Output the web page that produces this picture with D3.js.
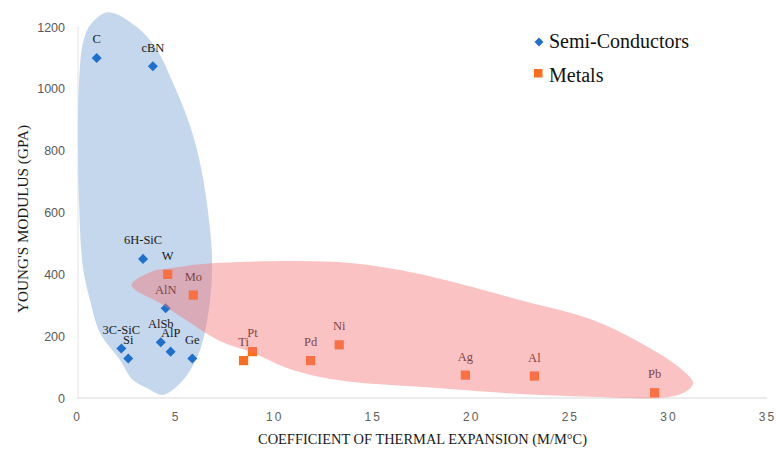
<!DOCTYPE html>
<html>
<head>
<meta charset="utf-8">
<script src="https://cdn.jsdelivr.net/npm/d3@7"></script>
<style>
  html, body { margin: 0; padding: 0; background: #ffffff; }
  svg { display: block; }
</style>
</head>
<body>
<svg id="chart" width="776" height="450"></svg>
<script>
// ---- Data ----
const semiNames  = ["C", "cBN", "6H-SiC", "AlN", "AlSb", "AlP", "3C-SiC", "Si", "Ge"];
const semiCTE    = [1.0, 3.85, 3.35, 4.5, 4.25, 4.75, 2.25, 2.6, 5.85];
const semiModulus= [1100, 1073, 450, 290, 180, 150, 160, 128, 128];

const metalNames  = ["W", "Mo", "Ti", "Pt", "Pd", "Ni", "Ag", "Al", "Pb"];
const metalCTE    = [4.6, 5.9, 8.45, 8.9, 11.85, 13.3, 19.7, 23.2, 29.3];
const metalModulus= [400, 333, 121, 150, 121, 172, 74, 71, 17];

const xTicks = [0, 5, 10, 15, 20, 25, 30, 35];
const yTicks = [0, 200, 400, 600, 800, 1000, 1200];

// highlight regions, outlines in data units (CTE, modulus)
const semiRegionX = [1.57, 3.04, 4.06, 4.87, 5.58, 6.09, 6.49, 6.75, 6.85, 6.75, 6.24, 5.38, 4.36, 3.55, 2.84, 2.18, 1.17, 0.66, 0.30, 0.10, 0.05, 0.10, 0.30, 0.66];
const semiRegionY = [1248, 1200, 1126, 1019, 909, 802, 673, 543, 446, 317, 155, 58, 10, 32, 58, 123, 210, 317, 424, 640, 867, 1019, 1148, 1206];

const metalRegionX = [2.77, 3.86, 4.72, 6.24, 8.27, 11.31, 13.85, 16.38, 18.92, 22.47, 26.17, 29.22, 30.69, 31.25, 30.74, 29.57, 26.53, 22.47, 17.40, 14.0, 12.33, 10.65, 8.93, 7.25, 5.53, 4.21];
const metalRegionY = [365, 411, 420, 433, 440, 443, 437, 414, 378, 317, 252, 155, 91, 48, 16, 0, 3, 13, 36, 52, 68, 97, 146, 184, 252, 307];

const seriesNames = ["Semi-Conductors", "Metals"];
const xTitle = "COEFFICIENT OF THERMAL EXPANSION (M/M\u00B0C)";
const yTitle = "YOUNG'S MODULUS (GPA)";

// ---- Layout ----
const svg = d3.select("#chart");
const x = d3.scaleLinear().domain([0, 35]).range([77, 767]);
const y = d3.scaleLinear().domain([0, 1200]).range([398, 27]);

const blue = "#1f6fcc";
const orange = "#fc6e1e";
const serif = "'Liberation Serif', 'Times New Roman', serif";
const sans = "'Liberation Sans', Arial, sans-serif";

// axes lines
svg.append("line").attr("x1", x(0)).attr("x2", x(35)).attr("y1", y(0)).attr("y2", y(0))
  .attr("stroke", "#d9d9d9").attr("stroke-width", 1);
svg.append("line").attr("x1", x(0) + 1).attr("x2", x(0) + 1).attr("y1", y(0)).attr("y2", y(1200))
  .attr("stroke", "#e3e3e3").attr("stroke-width", 1);

// tick labels via axes
const xAxis = svg.append("g").attr("transform", `translate(0,${y(0)})`)
  .call(d3.axisBottom(x).tickValues(xTicks).tickSize(0).tickPadding(14).tickFormat(d3.format("d")));
xAxis.select(".domain").remove();
xAxis.selectAll("text").attr("font-family", sans).attr("font-size", 12).attr("fill", "#606060")
  .attr("letter-spacing", "2px");

const yAxis = svg.append("g").attr("transform", `translate(${x(0)},0)`)
  .call(d3.axisLeft(y).tickValues(yTicks).tickSize(0).tickPadding(12).tickFormat(d3.format("d")));
yAxis.select(".domain").remove();
yAxis.selectAll("text").attr("font-family", sans).attr("font-size", 12.5).attr("fill", "#595959");

// blue region (below points)
const outline = d3.line().x(d => x(d[0])).y(d => y(d[1])).curve(d3.curveCatmullRomClosed.alpha(0.5));
const semiRegion = semiRegionX.map((v, i) => [v, semiRegionY[i]]);
const metalRegion = metalRegionX.map((v, i) => [v, metalRegionY[i]]);

svg.append("path").attr("d", outline(semiRegion))
  .attr("fill", "#bcd1ea").attr("fill-opacity", 0.88);

// points
const semi = semiNames.map((n, i) => ({ n, x: semiCTE[i], y: semiModulus[i] }));
const metals = metalNames.map((n, i) => ({ n, x: metalCTE[i], y: metalModulus[i] }));

svg.append("g").selectAll("path").data(semi).join("path")
  .attr("d", d3.symbol(d3.symbolDiamond2, 64)())
  .attr("transform", d => `translate(${x(d.x)},${y(d.y)})`)
  .attr("fill", blue);

svg.append("g").selectAll("rect").data(metals).join("rect")
  .attr("x", d => x(d.x) - 4.6).attr("y", d => y(d.y) - 4.6)
  .attr("width", 9.2).attr("height", 9.2)
  .attr("fill", orange);

// labels
svg.append("g").selectAll("text").data(semi.concat(metals)).join("text")
  .attr("x", d => x(d.x)).attr("y", d => y(d.y) - 14.5)
  .attr("text-anchor", "middle")
  .attr("font-family", serif).attr("font-size", 12.5).attr("fill", "#1a1a1a")
  .text(d => d.n);

// red region (over points)
svg.append("path").attr("d", outline(metalRegion))
  .attr("fill", "#f47474").attr("fill-opacity", 0.44);

// legend
const lg = svg.append("g");
lg.append("path").attr("d", d3.symbol(d3.symbolDiamond2, 50)())
  .attr("transform", "translate(539,42)").attr("fill", blue);
lg.append("text").attr("x", 549).attr("y", 48).attr("font-family", serif).attr("font-size", 20)
  .attr("fill", "#111").text(seriesNames[0]);
lg.append("rect").attr("x", 534).attr("y", 69).attr("width", 8.5).attr("height", 8.5).attr("fill", orange);
lg.append("text").attr("x", 549).attr("y", 82).attr("font-family", serif).attr("font-size", 20)
  .attr("fill", "#111").text(seriesNames[1]);

// axis titles
svg.append("text").attr("x", 422.5).attr("y", 444)
  .attr("text-anchor", "middle").attr("font-family", serif).attr("font-size", 15)
  .attr("textLength", 329).attr("lengthAdjust", "spacingAndGlyphs")
  .attr("fill", "#1a1a1a").text(xTitle);

svg.append("text").attr("transform", "translate(28,219) rotate(-90)")
  .attr("text-anchor", "middle").attr("font-family", serif).attr("font-size", 15)
  .attr("textLength", 188).attr("lengthAdjust", "spacingAndGlyphs")
  .attr("fill", "#1a1a1a").text(yTitle);
</script>
</body>
</html>
